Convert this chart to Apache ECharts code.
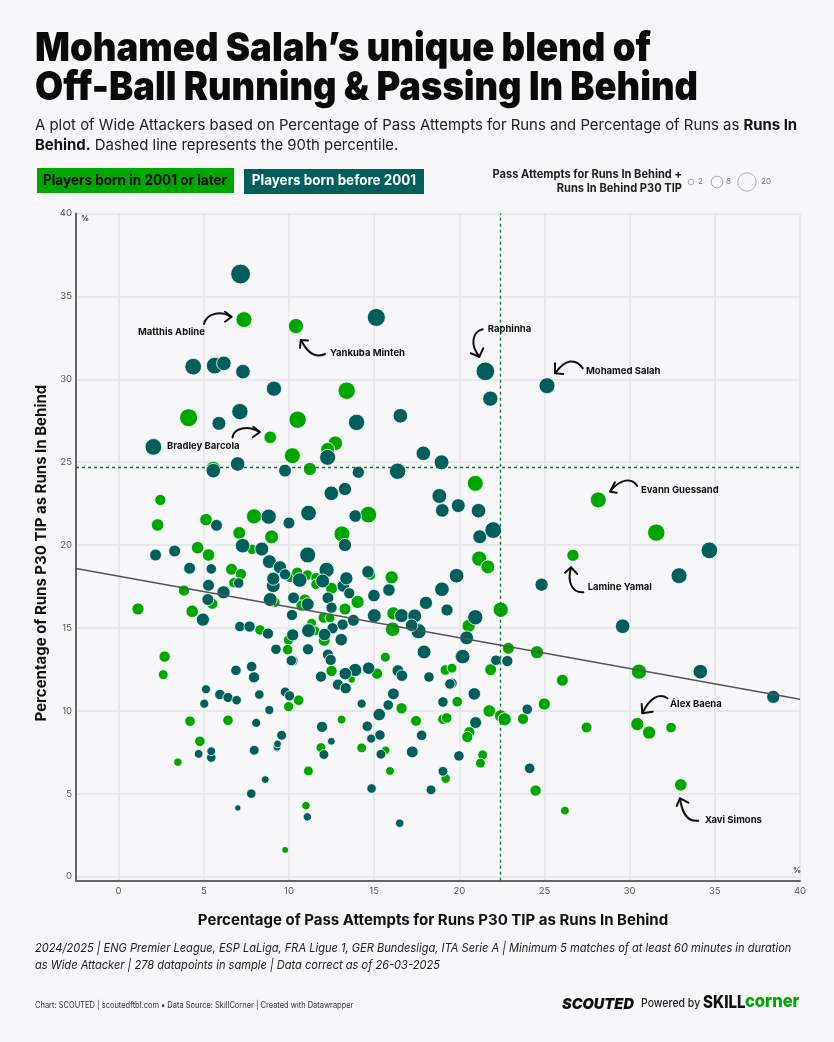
<!DOCTYPE html>
<html>
<head>
<meta charset="utf-8">
<title>Mohamed Salah's unique blend</title>
<style>
html, body { margin: 0; padding: 0; background: #f7f6f9; }
#main { width: 834px; height: 1042px; }
</style>
<script src="https://cdn.jsdelivr.net/npm/echarts@6/dist/echarts.min.js"></script>
</head>
<body>
<div id="main"></div>
<script>
// [pass attempts %, runs in behind %, size measure]
var youngPlayers = [
[7.36,33.6,12.8],[10.41,33.21,11.5],[13.39,29.31,15.2],[4.11,27.68,16.5],[10.51,27.56,15.2],[8.9,26.5,7.6],
[12.72,26.14,10.5],[12.27,25.77,9.5],[10.2,25.39,12.8],[11.23,24.59,8.5],[5.56,24.63,10],[2.45,22.72,6],
[2.29,21.21,7.6],[5.13,21.53,7.6],[7.95,21.73,11.5],[14.66,21.83,14],[7.08,20.73,8],[8.98,20.49,9.5],
[13.11,20.67,12.8],[4.64,19.84,7.6],[5.28,19.4,7.6],[7.83,19.74,5.2],[6.63,18.54,6.8],[7.18,18.25,6],
[6.77,17.73,5.2],[3.84,17.25,6],[5.5,16.46,6],[1.14,16.14,7.2],[4.32,16.0,7.6],[9.18,16.55,5],
[10.06,18.05,5.2],[10.49,18.33,6],[11.08,18.19,5.2],[11.59,18.03,5.2],[11.59,17.63,5.2],[12.5,17.39,6.8],
[14.79,18.19,5.2],[16.03,18.05,8.5],[10.94,16.69,6.8],[10.74,16.35,6],[14.03,16.57,8.5],[13.29,16.14,6.8],
[12.04,15.62,6],[12.41,15.6,4.5],[16.13,15.88,8.5],[16.09,14.92,10.5],[11.33,15.28,4.5],[11.53,14.82,4.5],
[8.3,14.88,5.2],[9.98,14.27,5.2],[12.07,14.25,6.8],[9.92,13.69,5.2],[2.7,13.27,6],[2.62,12.18,4.5],
[15.66,13.23,4.5],[12.5,12.4,6],[13.68,11.9,2.7],[15.17,12.24,6],[19.18,12.46,5.2],[19.57,12.57,4.5],
[10.57,10.64,5.2],[9.98,10.25,4.8],[19.88,10.55,5.2],[16.61,10.15,6],[4.19,9.37,5.2],[6.42,9.43,5.2],
[13.09,9.47,3.5],[17.46,9.39,5.6],[19.04,9.49,5.2],[19.26,9.57,5.2],[4.77,8.16,5.2],[11.88,7.78,4.5],
[14.27,7.76,4.5],[15.68,7.62,3.2],[3.48,6.9,3.2],[11.14,6.37,4.5],[15.93,6.37,3.5],[19.2,5.91,4.2],
[11.0,4.28,3.2],[9.78,1.61,2.1],[20.94,23.72,12.8],[21.17,19.18,11.5],[21.68,18.68,9.5],[22.43,16.1,11.5],
[20.55,15.12,8.5],[22.88,13.77,6.8],[21.84,12.48,6.8],[21.76,9.99,7.6],[22.43,9.69,7.6],[22.66,9.49,8.5],
[23.74,9.51,6],[20.59,8.71,6],[20.47,8.42,6],[21.37,7.34,4.5],[21.24,6.84,4.5],[28.16,22.72,12.8],
[31.56,20.75,15.2],[26.67,19.38,7.2],[24.56,13.53,8.5],[26.05,11.84,6.8],[30.55,12.36,11.5],[24.99,10.41,7.2],
[27.47,9.0,5.5],[30.45,9.2,8.5],[31.14,8.69,8.5],[32.43,8.99,5.2],[33.0,5.53,7.6],[24.48,5.19,6],[26.2,3.98,3.5]
];
var olderPlayers = [
[7.16,36.35,20],[15.13,33.73,16.5],[4.38,30.76,14],[5.64,30.82,14],[6.18,30.96,10.5],[7.3,30.46,10.5],
[9.12,29.43,11.5],[7.12,28.05,13.4],[5.89,27.34,9.5],[13.97,27.4,13.4],[16.54,27.8,10.5],[2.04,25.92,14],
[12.27,25.29,12.8],[6.99,24.89,10.5],[5.56,24.49,10.5],[9.77,24.49,8],[14.07,24.39,7.2],[16.38,24.45,13.4],
[17.89,25.53,10.5],[18.96,24.99,11],[13.29,23.38,8.5],[12.49,23.12,10.5],[18.83,22.96,11],[19.0,22.09,9],
[19.94,22.38,9.5],[11.15,21.93,12.2],[8.81,21.71,11.5],[13.89,21.75,7.6],[10.0,21.33,6.8],[5.75,21.19,6.8],
[13.29,20.0,8.5],[7.28,19.96,10.5],[8.41,19.76,9.5],[2.17,19.4,6.8],[3.29,19.64,6.8],[11.1,19.4,12.8],
[4.17,18.6,6.8],[5.44,18.56,5.2],[8.85,19.0,9.5],[9.47,18.66,8.5],[9.77,18.23,6],[12.21,18.5,11.5],
[9.08,17.55,9.5],[9.08,17.97,8.5],[10.63,17.89,10.5],[11.98,17.83,9.5],[13.19,17.53,7.6],[13.37,17.99,8.5],
[13.54,17.09,6],[14.64,18.38,7.6],[14.99,16.95,7.6],[15.87,17.29,7.6],[18.04,16.51,8.5],[18.98,17.33,10.5],
[19.84,18.15,10.5],[19.28,16.08,7.2],[5.28,17.57,6.8],[6.16,17.15,8.5],[7.05,17.71,5.2],[5.24,16.71,6.8],
[4.95,15.5,8.5],[8.9,16.71,9.5],[10.27,16.81,6.8],[12.29,16.81,6.8],[11.1,16.43,8],[12.5,16.22,6],
[15.01,15.74,9.5],[16.61,15.74,9.5],[17.61,14.8,11.5],[17.38,15.72,9.5],[17.2,15.16,7.6],[13.78,15.46,6.8],
[10.18,15.78,6],[13.15,15.2,6],[12.56,14.98,6],[7.12,15.08,5.2],[7.69,15.08,6],[8.77,14.66,6],
[11.15,14.84,9.5],[10.22,14.58,7.2],[12.09,14.6,7.6],[13.07,14.29,7.6],[9.24,13.71,5.2],[11.12,13.71,6],
[12.29,13.39,6],[12.45,13.07,6],[17.93,13.55,9.5],[20.08,13.27,6.8],[10.23,13.03,5],[10.14,13.03,5.2],
[6.89,12.44,5.2],[7.81,12.67,5.2],[7.95,12.02,6],[11.88,12.06,6],[13.89,12.46,8.5],[13.31,12.24,7.6],
[14.68,12.57,7.6],[16.4,12.42,6.8],[16.63,12.12,6.4],[18.22,12.04,5.2],[19.57,11.66,5.2],[19.45,11.62,5.2],
[12.88,11.58,6],[13.33,11.36,6],[16.13,11.02,6.8],[5.13,11.3,3.8],[5.95,10.98,5.2],[6.42,10.8,4.8],
[6.93,10.64,4.2],[8.26,10.98,4.2],[9.78,11.14,4.5],[10.04,10.9,4.8],[5.03,10.43,3.8],[8.85,10.05,3.8],
[14.27,10.43,3.8],[15.83,10.35,5.2],[15.3,9.77,7.6],[19.04,10.53,5.2],[8.08,9.27,3.8],[11.94,9.03,6],
[14.6,9.07,5.2],[15.34,8.54,5.2],[14.83,8.32,3.8],[17.79,8.52,5.2],[9.57,8.52,4.5],[9.3,7.8,2.7],
[9.33,8.0,2.7],[12.49,8.16,2.7],[7.96,7.62,4.5],[5.44,7.18,4.2],[5.44,7.56,3.5],[4.7,7.4,3.5],
[12.05,7.36,4.5],[15.4,7.38,4.5],[17.24,7.52,6.8],[19.98,7.28,5.2],[8.61,5.85,2.7],[19.04,6.35,4.5],
[7.79,5.0,4.2],[14.85,5.31,4.2],[18.34,5.23,4.5],[7.0,4.14,1.7],[11.08,3.6,3.2],[16.5,3.22,3.2],
[21.13,22.07,10.5],[21.2,20.5,9.5],[21.99,20.9,14],[20.94,15.64,11.5],[20.43,14.4,9.5],[20.2,13.27,10.5],
[22.15,13.05,5.2],[22.82,13.0,6],[20.88,11.02,7.6],[20.96,9.29,6.8],[23.99,10.09,5.2],[24.13,6.53,5.2],
[24.83,17.61,8.5],[29.59,15.1,10.5],[32.9,18.15,12.8],[34.68,19.68,14],[34.15,12.36,10.5],[38.43,10.84,8.5],
[21.53,30.48,17.5],[21.82,28.83,11.5],[25.15,29.61,12.8]
];
var xTicks = [0, 5, 10, 15, 20, 25, 30, 35, 40];
var yTicks = [0, 5, 10, 15, 20, 25, 30, 35, 40];
var trendLine = [[-2.5, 18.58], [40, 10.7]];
var percentileX = 22.43;
var percentileY = 24.67;
var sizeLegend = [2, 8, 20];

var GREEN = '#00a600';
var DARK = '#005f5a';
var FONT = 'Inter';

function bubbleSize(v) {
    return 4.25 * Math.sqrt(v) + 0.8;
}

function label(text, x, y) {
    return {
        type: 'text', x: x, y: y, z: 20,
        style: { text: text, font: '700 9.5px ' + FONT, fill: '#111', textAlign: 'left', textVerticalAlign: 'middle' }
    };
}

// hand drawn style arrow: one curve plus the two strokes of the head
function arrow(curve, head) {
    var line = { stroke: '#111', lineWidth: 2, fill: null, lineCap: 'round', lineJoin: 'round' };
    return {
        type: 'group',
        children: [
            {
                type: 'bezierCurve', z: 20,
                shape: { x1: curve[0], y1: curve[1], cpx1: curve[2], cpy1: curve[3], cpx2: curve[4], cpy2: curve[5], x2: curve[6], y2: curve[7] },
                style: line
            },
            { type: 'polyline', z: 20, shape: { points: head }, style: line }
        ]
    };
}

function plain(text, x, y, font, fill, align, scale) {
    return {
        type: 'text', x: x, y: y, originX: 0, originY: 0, scaleX: scale || 1, z: 20,
        style: { text: text, font: font + ' ' + FONT, fill: fill || '#111', textAlign: align || 'left', textVerticalAlign: 'middle' }
    };
}

var myChart = echarts.init(document.getElementById('main'));

var legendCircles = [
    { cx: 691, n: 0 }, { cx: 717, n: 1 }, { cx: 747, n: 2 }
].map(function (c) {
    return {
        type: 'circle', z: 20,
        shape: { cx: c.cx, cy: 182, r: 4.1 * Math.sqrt(sizeLegend[c.n]) / 2 },
        style: { fill: 'transparent', stroke: '#aaa', lineWidth: 1 }
    };
});

var option = {
    backgroundColor: '#f7f6f9',
    animation: false,
    textStyle: { fontFamily: FONT },
    grid: { left: 76, right: 34, top: 213.5, bottom: 161.3 },
    xAxis: {
        type: 'value', min: -2.5, max: 40,
        name: 'Percentage of Pass Attempts for Runs P30 TIP as Runs In Behind',
        nameLocation: 'middle', nameGap: 32,
        nameTextStyle: { fontFamily: FONT, fontWeight: 700, fontSize: 15, color: '#111', padding: [0, 10, 0, 0] },
        axisLine: { onZero: false, lineStyle: { color: '#666', width: 2 } },
        axisTick: { show: false, customValues: xTicks },
        axisLabel: { customValues: xTicks, color: '#555', fontSize: 9.5, fontFamily: FONT, margin: 5 },
        splitLine: { show: true, lineStyle: { color: '#e5e4e9', width: 1.5 } }
    },
    yAxis: {
        type: 'value', min: -0.25, max: 40,
        name: 'Percentage of Runs P30 TIP as Runs In Behind',
        nameLocation: 'middle', nameGap: 27,
        nameTextStyle: { fontFamily: FONT, fontWeight: 700, fontSize: 15, color: '#111', padding: [0, 12, 0, 0] },
        axisLine: { onZero: false, lineStyle: { color: '#666', width: 2 } },
        axisTick: { show: false, customValues: yTicks },
        axisLabel: { customValues: yTicks, color: '#555', fontSize: 9.5, fontFamily: FONT, margin: 4 },
        splitLine: { show: true, lineStyle: { color: '#e5e4e9', width: 1.5 } }
    },
    series: [
        {
            name: 'Players born in 2001 or later', type: 'scatter', data: youngPlayers, z: 3,
            symbolSize: function (d) { return bubbleSize(d[2]); },
            itemStyle: { color: GREEN, borderColor: '#fff', borderWidth: 0.8, opacity: 1 }
        },
        {
            name: 'Players born before 2001', type: 'scatter', data: olderPlayers, z: 4,
            symbolSize: function (d) { return bubbleSize(d[2]); },
            itemStyle: { color: DARK, borderColor: '#fff', borderWidth: 0.8, opacity: 1 }
        },
        {
            name: 'Trend', type: 'line', data: trendLine, z: 5, symbol: 'none', silent: true,
            lineStyle: { color: '#555', width: 1.5 }
        },
        {
            name: 'Percentiles', type: 'line', data: [], z: 2, silent: true,
            markLine: {
                symbol: 'none', silent: true, label: { show: false },
                lineStyle: { color: '#1f6b3c', type: [3, 3], width: 1.3 },
                data: [{ xAxis: percentileX }, { yAxis: percentileY }]
            }
        }
    ],
    graphic: [
        plain('Mohamed Salah\u2019s unique blend of', 35, 49, '900 39.5px', '#0a0a0a', 'left', 0.925),
        plain('Off-Ball Running & Passing In Behind', 35, 88, '900 39.5px', '#0a0a0a', 'left', 0.92),
        {
            type: 'text', x: 35, y: 126, z: 20,
            style: {
                text: 'A plot of Wide Attackers based on Percentage of Pass Attempts for Runs and Percentage of Runs as {b|Runs In}',
                font: '400 14.9px ' + FONT, fill: '#222', textVerticalAlign: 'middle',
                rich: { b: { font: '700 14.9px ' + FONT, fill: '#111' } }
            }
        },
        {
            type: 'text', x: 35, y: 146, z: 20,
            style: {
                text: '{b|Behind.} Dashed line represents the 90th percentile.',
                font: '400 14.9px ' + FONT, fill: '#222', textVerticalAlign: 'middle',
                rich: { b: { font: '700 14.9px ' + FONT, fill: '#111' } }
            }
        },
        { type: 'rect', z: 10, shape: { x: 37, y: 168, width: 197, height: 25 }, style: { fill: GREEN } },
        { type: 'rect', z: 10, shape: { x: 244, y: 169, width: 180, height: 25 }, style: { fill: DARK } },
        plain('Players born in 2001 or later', 135, 181, '700 14.7px', '#0a0a0a', 'center', 0.92),
        plain('Players born before 2001', 334, 181, '700 14px', '#fff', 'center', 0.96),
        plain('Pass Attempts for Runs In Behind +', 682, 174, '700 11.7px', '#222', 'right', 0.95),
        plain('Runs In Behind P30 TIP', 682, 188, '700 11.7px', '#222', 'right', 0.95),
        plain(String(sizeLegend[0]), 698, 182, '400 8px', '#777'),
        plain(String(sizeLegend[1]), 726, 182, '400 8px', '#777'),
        plain(String(sizeLegend[2]), 761, 182, '400 8px', '#777'),
        plain('%', 81, 219, '700 8px', '#555'),
        plain('%', 793, 871, '700 8px', '#555'),

        label('Matthis Abline', 138, 331.7),
        label('Yankuba Minteh', 330, 353),
        label('Bradley Barcola', 167, 445.7),
        label('Raphinha', 487.7, 329),
        label('Mohamed Salah', 586, 370.7),
        label('Evann Guessand', 641, 489.7),
        label('Lamine Yamal', 587.7, 587),
        label('\u00c1lex Baena', 670, 704),
        label('Xavi Simons', 705, 820),

        arrow([204, 324, 207, 312, 222, 311, 231, 317], [[225, 311.7], [231.7, 316.7], [225, 321.7]]),
        arrow([325, 354, 316, 358, 308, 354, 301, 340], [[308, 340.5], [300.7, 340], [300, 348]]),
        arrow([232.5, 437.5, 234, 428, 248, 425, 259, 432], [[253.3, 426.7], [260, 432], [252.7, 437.3]]),
        arrow([482.7, 329.3, 472, 332, 470, 345, 479.3, 356.5], [[470.7, 353.3], [479.3, 356.7], [483.3, 348.3]]),
        arrow([582.7, 368.3, 576, 358, 565, 359, 555.5, 373], [[555, 363.3], [555, 373.3], [563.3, 374]]),
        arrow([637.3, 486, 632, 477, 620, 479, 610.5, 491], [[615, 482.3], [610, 491.7], [616.7, 492.7]]),
        arrow([583.3, 592.3, 572, 593, 567, 582, 571, 567.5], [[565, 572.7], [571, 567.3], [577.3, 574]]),
        arrow([667.3, 698.3, 660, 693, 650, 697, 642.5, 713], [[641.7, 704], [642.3, 713.3], [652.7, 711.7]]),
        arrow([698.3, 820.7, 688, 822, 682, 813, 680, 798.5], [[676.7, 806], [680, 798.3], [688.3, 802.7]]),

        plain('2024/2025 | ENG Premier League, ESP LaLiga, FRA Ligue 1, GER Bundesliga, ITA Serie A | Minimum 5 matches of at least 60 minutes in duration', 35, 948, 'italic 400 12px', '#222', 'left', 0.923),
        plain('as Wide Attacker | 278 datapoints in sample | Data correct as of 26-03-2025', 35, 965, 'italic 400 12px', '#222', 'left', 0.923),
        plain('Chart: SCOUTED | scoutedftbl.com \u2022 Data Source: SkillCorner | Created with Datawrapper', 35, 1005, '400 8.5px', '#333', 'left', 0.88),
        plain('SCOUTED', 562, 1004, 'italic 900 15px', '#111', 'left', 0.97),
        plain('Powered by', 641, 1003, '500 12px', '#222', 'left', 0.875),
        plain('SKILL', 703, 1003, '800 17px', '#111', 'left', 0.89),
        plain('corner', 745, 1002, '800 18px', GREEN, 'left', 0.92)
    ].concat(legendCircles)
};

myChart.setOption(option);
</script>
</body>
</html>
